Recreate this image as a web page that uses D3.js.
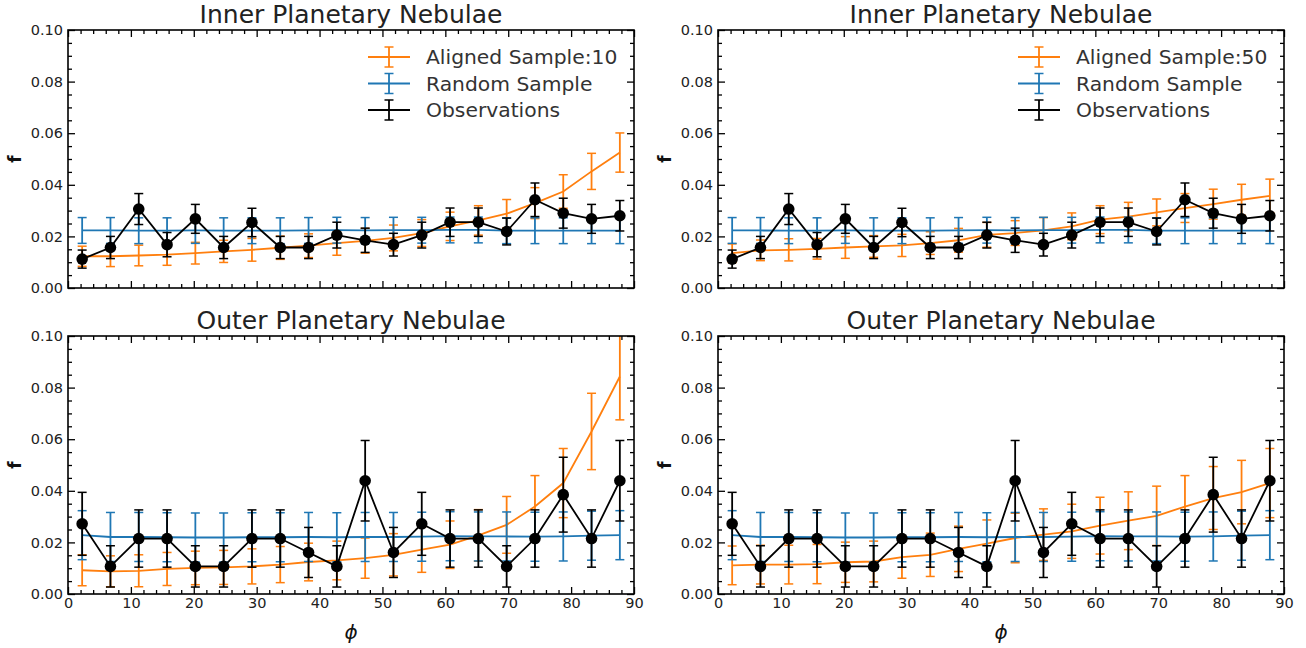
<!DOCTYPE html>
<html><head><meta charset="utf-8">
<script src="https://cdn.jsdelivr.net/npm/d3@7"></script>
<style>body{margin:0;background:#fff}svg{display:block}</style>
</head><body>
<svg id="c" width="1306" height="648"></svg>
<script>
const phi = [2.25,6.75,11.25,15.75,20.25,24.75,29.25,33.75,38.25,42.75,47.25,51.75,56.25,60.75,65.25,69.75,74.25,78.75,83.25,87.75];

const obsInner    = [0.0112,0.0157,0.0306,0.0168,0.0268,0.0157,0.0254,0.0157,0.0157,0.0205,0.0185,0.0168,0.0205,0.0255,0.0255,0.0219,0.0342,0.0290,0.0268,0.0280];
const obsInnerErr = [0.0035,0.0043,0.0060,0.0047,0.0056,0.0043,0.0055,0.0043,0.0043,0.0050,0.0047,0.0044,0.0050,0.0055,0.0055,0.0052,0.0065,0.0058,0.0056,0.0059];
const randInner    = [0.0223,0.0223,0.0222,0.0222,0.0223,0.0222,0.0222,0.0222,0.0223,0.0224,0.0223,0.0224,0.0224,0.0225,0.0225,0.0222,0.0222,0.0222,0.0222,0.0222];
const randInnerErr = [0.0050,0.0050,0.0050,0.0050,0.0050,0.0050,0.0050,0.0050,0.0050,0.0050,0.0050,0.0050,0.0050,0.0050,0.0050,0.0050,0.0050,0.0050,0.0050,0.0050];
const alignInner10    = [0.0123,0.0123,0.0126,0.0129,0.0135,0.0142,0.0148,0.0156,0.0164,0.0174,0.0183,0.0194,0.0213,0.0239,0.0262,0.0288,0.0329,0.0374,0.0452,0.0525];
const alignInner10Err = [0.0039,0.0040,0.0040,0.0041,0.0042,0.0043,0.0044,0.0045,0.0046,0.0047,0.0048,0.0050,0.0052,0.0055,0.0057,0.0055,0.0060,0.0065,0.0070,0.0076];
const alignInner50    = [0.0135,0.0146,0.0148,0.0152,0.0157,0.0161,0.0165,0.0174,0.0185,0.0206,0.0213,0.0223,0.0239,0.0265,0.0277,0.0293,0.0310,0.0325,0.0342,0.0357];
const alignInner50Err = [0.0036,0.0040,0.0043,0.0040,0.0042,0.0042,0.0043,0.0044,0.0046,0.0048,0.0048,0.0050,0.0052,0.0054,0.0055,0.0052,0.0056,0.0058,0.0060,0.0065];

const obsOuter    = [0.0272,0.0107,0.0215,0.0215,0.0107,0.0107,0.0215,0.0215,0.0161,0.0107,0.0439,0.0161,0.0272,0.0215,0.0215,0.0107,0.0215,0.0385,0.0215,0.0439];
const obsOuterErr = [0.0122,0.0080,0.0111,0.0111,0.0080,0.0080,0.0111,0.0111,0.0097,0.0080,0.0156,0.0097,0.0122,0.0111,0.0111,0.0080,0.0111,0.0145,0.0111,0.0156];
const randOuter    = [0.0228,0.0221,0.0221,0.0220,0.0219,0.0219,0.0220,0.0220,0.0221,0.0220,0.0221,0.0221,0.0222,0.0224,0.0223,0.0223,0.0222,0.0223,0.0226,0.0228];
const randOuterErr = [0.0095,0.0095,0.0095,0.0095,0.0095,0.0095,0.0095,0.0095,0.0095,0.0095,0.0095,0.0095,0.0095,0.0095,0.0095,0.0095,0.0095,0.0095,0.0095,0.0095];
const alignOuter10    = [0.0092,0.0088,0.0090,0.0097,0.0101,0.0103,0.0107,0.0114,0.0124,0.0130,0.0139,0.0152,0.0172,0.0191,0.0227,0.0268,0.0339,0.0430,0.0630,0.0843];
const alignOuter10Err = [0.0060,0.0060,0.0062,0.0064,0.0065,0.0066,0.0068,0.0070,0.0073,0.0075,0.0078,0.0082,0.0088,0.0092,0.0100,0.0110,0.0120,0.0134,0.0148,0.0168];
const alignOuter50    = [0.0111,0.0114,0.0114,0.0116,0.0123,0.0126,0.0143,0.0152,0.0175,0.0195,0.0217,0.0230,0.0243,0.0265,0.0284,0.0303,0.0339,0.0372,0.0395,0.0430];
const alignOuter50Err = [0.0075,0.0075,0.0075,0.0076,0.0078,0.0079,0.0082,0.0084,0.0088,0.0092,0.0096,0.0100,0.0105,0.0110,0.0112,0.0115,0.0120,0.0122,0.0123,0.0134];

const xTicks = [0,10,20,30,40,50,60,70,80,90];
const yTicks = [0.00,0.02,0.04,0.06,0.08,0.10];
const yTickLabels = ["0.00","0.02","0.04","0.06","0.08","0.10"];

const ORANGE = "#ff7f0e", BLUE = "#1f77b4", BLACK = "#000";
const FONT = "DejaVu Sans, sans-serif";

const panels = [
  {x0:68,  y0:30,  title:"Inner Planetary Nebulae", obs:obsInner, obsE:obsInnerErr, rnd:randInner, rndE:randInnerErr, al:alignInner10, alE:alignInner10Err, alLabel:"Aligned Sample:10", legend:true, xlabels:false},
  {x0:718, y0:30,  title:"Inner Planetary Nebulae", obs:obsInner, obsE:obsInnerErr, rnd:randInner, rndE:randInnerErr, al:alignInner50, alE:alignInner50Err, alLabel:"Aligned Sample:50", legend:true, xlabels:false},
  {x0:68,  y0:336, title:"Outer Planetary Nebulae", obs:obsOuter, obsE:obsOuterErr, rnd:randOuter, rndE:randOuterErr, al:alignOuter10, alE:alignOuter10Err, legend:false, xlabels:true},
  {x0:718, y0:336, title:"Outer Planetary Nebulae", obs:obsOuter, obsE:obsOuterErr, rnd:randOuter, rndE:randOuterErr, al:alignOuter50, alE:alignOuter50Err, legend:false, xlabels:true}
];
const W = 566, H = 258;
const svg = d3.select("#c");

panels.forEach((p, pi) => {
  const g = svg.append("g").attr("transform", `translate(${p.x0},${p.y0})`);
  const x = d3.scaleLinear().domain([0,90]).range([0,W]);
  const y = d3.scaleLinear().domain([0,0.10]).range([H,0]);
  const cid = "clip"+pi;
  g.append("clipPath").attr("id",cid).append("rect").attr("width",W).attr("height",H);
  const plot = g.append("g").attr("clip-path",`url(#${cid})`);

  function series(vals, errs, color, withMarkers) {
    const sg = plot.append("g");
    const line = d3.line().x((d,i)=>x(phi[i])).y(d=>y(d));
    sg.append("path").attr("d", line(vals)).attr("fill","none").attr("stroke",color).attr("stroke-width",1.8);
    vals.forEach((v,i)=>{
      const cx = x(phi[i]), t = y(v+errs[i]), b = y(v-errs[i]);
      sg.append("line").attr("x1",cx).attr("x2",cx).attr("y1",t).attr("y2",b).attr("stroke",color).attr("stroke-width",1.8);
      [t,b].forEach(yy=>sg.append("line").attr("x1",cx-4.5).attr("x2",cx+4.5).attr("y1",yy).attr("y2",yy).attr("stroke",color).attr("stroke-width",1.5));
    });
    if (withMarkers) {
      vals.forEach((v,i)=>sg.append("circle").attr("cx",x(phi[i])).attr("cy",y(v)).attr("r",5.8).attr("fill",color));
    }
  }
  series(p.al, p.alE, ORANGE, false);
  series(p.rnd, p.rndE, BLUE, false);
  series(p.obs, p.obsE, BLACK, true);

  const axB = d3.axisBottom(x).tickValues(xTicks).tickSizeInner(-7).tickSizeOuter(0).tickPadding(4).tickFormat(p.xlabels ? d3.format("d") : "");
  const axT = d3.axisTop(x).tickValues(xTicks).tickSizeInner(-7).tickSizeOuter(0).tickFormat("");
  const axL = d3.axisLeft(y).tickValues(yTicks).tickSizeInner(-7).tickSizeOuter(0).tickPadding(5).tickFormat((d,i)=>yTickLabels[i]);
  const axR = d3.axisRight(y).tickValues(yTicks).tickSizeInner(-7).tickSizeOuter(0).tickFormat("");
  const xMinor = [2,4,6,8,12,14,16,18,22,24,26,28,32,34,36,38,42,44,46,48,52,54,56,58,62,64,66,68,72,74,76,78,82,84,86,88];
  const yMinor = [0.005,0.01,0.015,0.025,0.03,0.035,0.045,0.05,0.055,0.065,0.07,0.075,0.085,0.09,0.095];
  const mB = d3.axisBottom(x).tickValues(xMinor).tickSizeInner(-4).tickSizeOuter(0).tickFormat("");
  const mT = d3.axisTop(x).tickValues(xMinor).tickSizeInner(-4).tickSizeOuter(0).tickFormat("");
  const mL = d3.axisLeft(y).tickValues(yMinor).tickSizeInner(-4).tickSizeOuter(0).tickFormat("");
  const mR = d3.axisRight(y).tickValues(yMinor).tickSizeInner(-4).tickSizeOuter(0).tickFormat("");
  const axes = [
    [axB,`translate(0,${H})`],[mB,`translate(0,${H})`],
    [axT,null],[mT,null],
    [axL,null],[mL,null],
    [axR,`translate(${W},0)`],[mR,`translate(${W},0)`]
  ];
  axes.forEach(([a,tr])=>{
    const ag = g.append("g").call(a);
    if (tr) ag.attr("transform",tr);
    ag.select(".domain").remove();
    ag.selectAll(".tick line").attr("stroke","#000").attr("stroke-width",1.3);
    ag.selectAll("text").attr("font-family",FONT).attr("font-size",14.5).attr("fill","#222");
  });
  g.append("rect").attr("width",W).attr("height",H).attr("fill","none").attr("stroke","#000").attr("stroke-width",1.6);

  g.append("text").attr("x",W/2).attr("y",-7).attr("text-anchor","middle")
    .attr("font-family",FONT).attr("font-size",25).attr("fill","#222").text(p.title);
  g.append("text").attr("transform",`translate(-47,${H/2}) rotate(-90)`).attr("text-anchor","middle")
    .attr("font-family",FONT).attr("font-weight","bold").attr("font-size",17).attr("fill","#111").text("f");
  if (p.xlabels) {
    g.append("text").attr("x",W/2).attr("y",H+45).attr("text-anchor","middle")
      .attr("font-family",FONT).attr("font-style","italic").attr("font-size",20).attr("fill","#111").text("ϕ");
  }
  if (p.legend) {
    const items = [[p.alLabel,ORANGE],["Random Sample",BLUE],["Observations",BLACK]];
    items.forEach(([lab,col],k)=>{
      const ly = 27 + k*26.5, lx = 300;
      const lg = g.append("g");
      lg.append("line").attr("x1",lx).attr("x2",lx+42).attr("y1",ly).attr("y2",ly).attr("stroke",col).attr("stroke-width",1.8);
      lg.append("line").attr("x1",lx+21).attr("x2",lx+21).attr("y1",ly-10).attr("y2",ly+10).attr("stroke",col).attr("stroke-width",1.8);
      [ly-10,ly+10].forEach(yy=>lg.append("line").attr("x1",lx+16.5).attr("x2",lx+25.5).attr("y1",yy).attr("y2",yy).attr("stroke",col).attr("stroke-width",1.5));
      lg.append("text").attr("x",lx+58).attr("y",ly+7).attr("font-family",FONT).attr("font-size",20.3).attr("fill","#333").text(lab);
    });
  }
});
</script>
</body></html>
